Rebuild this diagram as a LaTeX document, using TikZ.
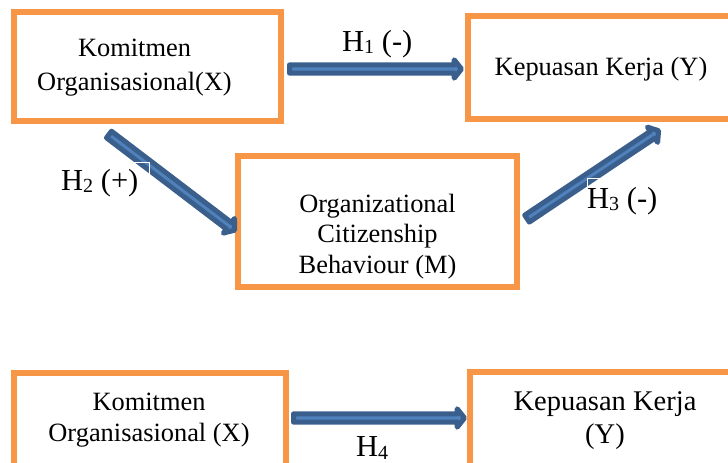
\documentclass[tikz,border=0pt]{standalone}
\usepackage{fontspec}
\setmainfont{Liberation Serif}
\usetikzlibrary{calc}
\definecolor{boxorange}{HTML}{F79646}
\definecolor{arrowline}{HTML}{3A5F8C}
\definecolor{arrowfill}{HTML}{4F81BD}
\tikzset{
  box/.style={draw=boxorange, line width=5.5pt, rectangle, inner sep=0pt},
  txt/.style={align=center, inner sep=0pt},
  hlab/.style={inner sep=0pt, anchor=base west, font=\fontsize{30.5}{32}\selectfont},
  barrow/.style={draw=arrowline, fill=arrowfill, line width=5pt, line join=round},
  whiteedge/.style={draw=white, line width=0.9pt},
}
\newcommand\hsub[1]{\raisebox{-2.3pt}{\fontsize{20}{21}\selectfont #1}}
\newcommand\blockarrow[2]{%
  \coordinate (hb) at ($(#2)!7.3pt!(#1)$);
  \draw[barrow] ($(#1)!4.15pt!90:(#2)$) -- ($(hb)!4.15pt!90:(#2)$) -- ($(hb)!9.2pt!90:(#2)$) -- (#2)
    -- ($(hb)!9.2pt!-90:(#2)$) -- ($(hb)!4.15pt!-90:(#2)$) -- ($(#1)!4.15pt!-90:(#2)$) -- cycle;}
\begin{document}
\begin{tikzpicture}[x=1pt,y=-1pt]
\useasboundingbox (0,0) rectangle (728,463);
\clip (0,0) rectangle (728,463);
% boxes
\node[box, minimum width=267pt, minimum height=109pt] (kx) at (147.5,66.5) {};
\node[box, minimum width=264pt, minimum height=103pt] (ky) at (600,67.5) {};
\node[box, minimum width=279pt, minimum height=131pt] (ocb) at (377.5,221.5) {};
\node[box, minimum width=272pt, minimum height=107pt] (kx2) at (150,426.5) {};
\node[box, minimum width=265pt, minimum height=108pt] (ky2) at (602.5,426) {};
% arrow end points
\coordinate (h1s) at (289.5,69);
\coordinate (h1e) at (461.5,69);
\coordinate (h2s) at (109,134.5);
\coordinate (h2e) at (234.7,230.2);
\coordinate (h3s) at (527,218.6);
\coordinate (h3e) at (658.6,130.7);
\coordinate (h4s) at (293.5,418);
\coordinate (h4e) at (464.5,418);
\blockarrow{h1s}{h1e}
\blockarrow{h2s}{h2e}
\blockarrow{h3s}{h3e}
\blockarrow{h4s}{h4e}
% label box outlines showing over the arrows
\draw[whiteedge] (120,162) -- (149,162) -- (149,185);
\draw[whiteedge] (587,200) -- (587,178) -- (625,178);
% texts
\node[txt, font=\fontsize{26.4}{34}\selectfont] (kxt) at (134.5,67.75) {Komitmen\\Organisasional(X)};
\node[txt, font=\fontsize{26.4}{33}\selectfont, anchor=base] (kyt) at (601,75) {Kepuasan Kerja (Y)};
\node[txt, font=\fontsize{26.4}{30.5}\selectfont] (ocbt) at (377.5,236.4) {Organizational\\Citizenship\\Behaviour (M)};
\node[txt, font=\fontsize{26.4}{31}\selectfont] (kx2t) at (149,420.25) {Komitmen\\Organisasional (X)};
\node[txt, font=\fontsize{28.5}{33}\selectfont] (ky2t) at (605,420.3) {Kepuasan Kerja\\(Y)};
\node[hlab] (h1) at (342,51) {H\hsub{1} (-)};
\node[hlab] (h2) at (61,190) {H\hsub{2} (+)};
\node[hlab] (h3) at (587,208) {H\hsub{3} (-)};
\node[hlab] (h4) at (356,456.7) {H\hsub{4}};
\end{tikzpicture}
\end{document}
